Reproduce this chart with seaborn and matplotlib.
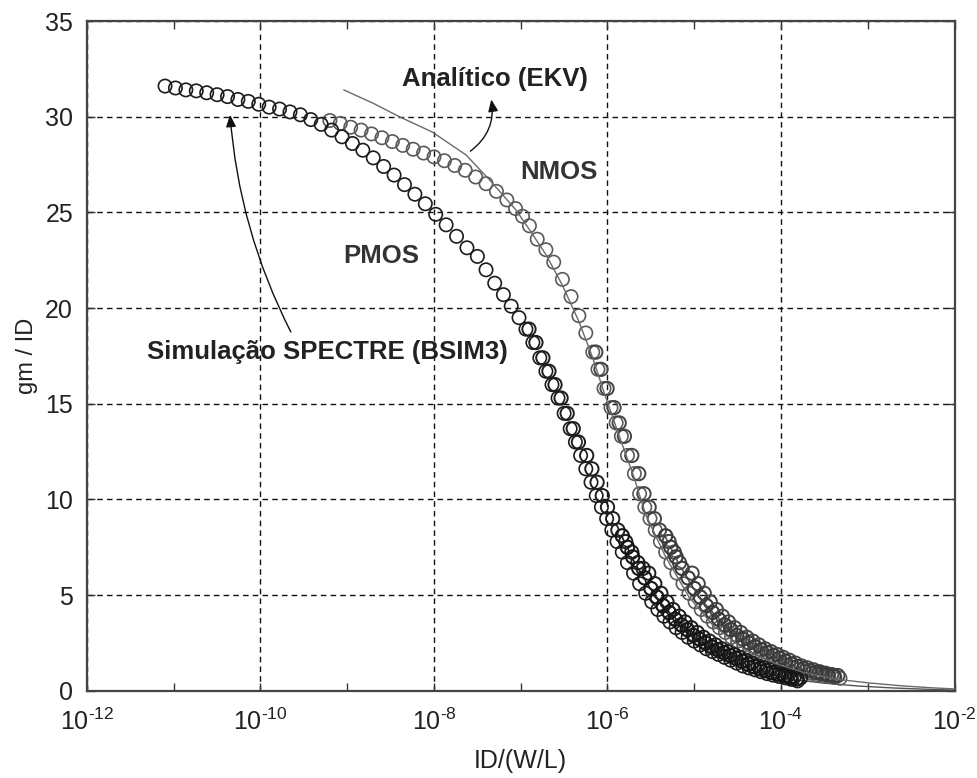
import matplotlib
matplotlib.use("Agg")
import matplotlib.pyplot as plt
import matplotlib.ticker as mticker
import numpy as np
import pandas as pd
import seaborn as sns

sns.set_theme(style="ticks")
plt.rcParams['font.family'] = ['Liberation Sans', 'DejaVu Sans']
plt.rcParams['mathtext.fontset'] = 'custom'
plt.rcParams['mathtext.rm'] = 'Liberation Sans'
plt.rcParams['mathtext.it'] = 'Liberation Sans:italic'
plt.rcParams['mathtext.bf'] = 'Liberation Sans:bold'

# simulated PMOS points (log10 of ID/(W/L), gm/ID)
pmos_log_id = [-11.10, -10.98, -10.86, -10.74, -10.62, -10.50, -10.38, -10.26, -10.14, -10.02,
               -9.90, -9.78, -9.66, -9.54, -9.42, -9.30, -9.18, -9.06, -8.94, -8.82,
               -8.70, -8.58, -8.46, -8.34, -8.22, -8.10, -7.98, -7.86, -7.74, -7.62,
               -7.50, -7.40, -7.30, -7.20, -7.11, -7.02, -6.94, -6.86, -6.78, -6.71,
               -6.64, -6.57, -6.50, -6.43, -6.37, -6.31, -6.25, -6.19, -6.13, -6.07,
               -6.01, -5.95, -5.89, -5.83, -5.77, -5.70, -5.63, -5.56, -5.49, -5.42,
               -5.35, -5.28, -5.21, -5.14, -5.07, -5.00, -4.93, -4.86, -4.79, -4.72,
               -4.65, -4.58, -4.51, -4.44, -4.37, -4.30, -4.23, -4.16, -4.09, -4.02,
               -3.95, -3.88, -3.81]
pmos_gm_id = [31.6, 31.5, 31.4, 31.35, 31.25, 31.15, 31.05, 30.9, 30.8, 30.65,
              30.5, 30.4, 30.25, 30.1, 29.85, 29.6, 29.3, 28.95, 28.6, 28.25,
              27.85, 27.4, 26.95, 26.45, 25.95, 25.45, 24.9, 24.35, 23.75, 23.15,
              22.7, 22.0, 21.3, 20.7, 20.1, 19.5, 18.9, 18.2, 17.4, 16.7,
              16.0, 15.3, 14.5, 13.7, 13.0, 12.3, 11.6, 10.9, 10.2, 9.6,
              9.0, 8.4, 7.8, 7.25, 6.7, 6.15, 5.6, 5.1, 4.65, 4.25,
              3.9, 3.6, 3.3, 3.05, 2.8, 2.6, 2.4, 2.2, 2.05, 1.9,
              1.75, 1.6, 1.45, 1.3, 1.2, 1.1, 1.0, 0.9, 0.82, 0.75,
              0.68, 0.6, 0.52]
# overlapping PMOS sweeps in strong inversion
pmos2_log_id = [-6.905, -6.825, -6.745, -6.675, -6.605, -6.535, -6.465, -6.395, -6.335, -6.24,
                -6.18, -6.12, -6.06, -6.00, -5.94, -5.88, -5.79, -5.72, -5.65, -5.59,
                -5.525, -5.455, -5.385, -5.315, -5.245, -5.175, -5.105, -5.035, -4.965, -4.895,
                -4.825, -4.755, -4.685, -4.615, -4.545, -4.475, -4.405, -4.335, -4.265, -4.195,
                -4.125, -4.055, -3.985, -3.915, -3.845, -3.775]
pmos2_gm_id = [18.9, 18.2, 17.4, 16.7, 16.0, 15.3, 14.5, 13.7, 13.0, 12.3,
               11.6, 10.9, 10.2, 9.6, 9.0, 8.4, 7.8, 7.25, 6.7, 6.4,
               6.15, 5.6, 5.1, 4.65, 4.25, 3.9, 3.6, 3.3, 3.05, 2.8,
               2.6, 2.4, 2.2, 2.05, 1.9, 1.75, 1.6, 1.45, 1.3, 1.2,
               1.1, 1.0, 0.9, 0.82, 0.75, 0.68]
pmos3_log_id = [-5.83, -5.77, -5.71, -5.64, -5.57, -5.50, -5.43, -5.36, -5.29, -5.22,
                -5.15, -5.08, -5.01, -4.94, -4.87, -4.80, -4.73, -4.66, -4.59, -4.52,
                -4.45, -4.38, -4.31, -4.24, -4.17, -4.10, -4.03, -3.96, -3.89, -3.82]
pmos3_gm_id = [8.1, 7.5, 7.0, 6.4, 5.9, 5.35, 4.9, 4.45, 4.1, 3.75,
               3.45, 3.2, 2.9, 2.7, 2.5, 2.3, 2.15, 2.0, 1.85, 1.7,
               1.55, 1.4, 1.27, 1.15, 1.05, 0.95, 0.87, 0.78, 0.7, 0.62]

# simulated NMOS points
nmos_log_id = [-9.20, -9.08, -8.96, -8.84, -8.72, -8.60, -8.48, -8.36, -8.24, -8.12,
               -8.00, -7.88, -7.76, -7.64, -7.52, -7.40, -7.28, -7.16, -7.06, -6.98,
               -6.90, -6.81, -6.71, -6.62, -6.52, -6.42, -6.33, -6.25, -6.17, -6.11,
               -6.04, -5.96, -5.90, -5.84, -5.77, -5.69, -5.63, -5.57, -5.51, -5.45,
               -5.39, -5.33, -5.27, -5.20, -5.13, -5.06, -4.99, -4.92, -4.85, -4.78,
               -4.71, -4.64, -4.57, -4.50, -4.43, -4.36, -4.29, -4.22, -4.15, -4.08,
               -4.01, -3.94, -3.87, -3.80, -3.73, -3.66, -3.59, -3.52, -3.45, -3.38,
               -3.32]
nmos_gm_id = [29.8, 29.65, 29.45, 29.3, 29.1, 28.9, 28.7, 28.5, 28.3, 28.1,
              27.9, 27.7, 27.45, 27.2, 26.85, 26.5, 26.1, 25.65, 25.2, 24.8,
              24.3, 23.6, 23.05, 22.4, 21.5, 20.6, 19.6, 18.7, 17.7, 16.8,
              15.8, 14.8, 14.0, 13.3, 12.3, 11.35, 10.3, 9.6, 9.0, 8.4,
              7.8, 7.25, 6.7, 6.15, 5.6, 5.1, 4.65, 4.25, 3.9, 3.6,
              3.3, 3.05, 2.8, 2.6, 2.4, 2.2, 2.05, 1.9, 1.75, 1.6,
              1.45, 1.3, 1.2, 1.1, 1.0, 0.92, 0.85, 0.8, 0.75, 0.7,
              0.66]
# overlapping NMOS sweeps in strong inversion
nmos2_log_id = [-6.135, -6.075, -6.005, -5.925, -5.865, -5.805, -5.72, -5.64, -5.58, -5.52,
                -5.46, -5.40, -5.29, -5.23, -5.17, -5.025, -4.955, -4.885, -4.815, -4.745,
                -4.675, -4.605, -4.535, -4.465, -4.395, -4.325, -4.255, -4.185, -4.115, -4.045,
                -3.975, -3.905, -3.835, -3.765, -3.695, -3.625, -3.555, -3.485, -3.415, -3.345]
nmos2_gm_id = [17.7, 16.8, 15.8, 14.8, 14.0, 13.3, 12.3, 11.35, 10.3, 9.6,
               9.0, 8.4, 7.8, 7.25, 6.7, 6.15, 5.6, 5.1, 4.65, 4.25,
               3.9, 3.6, 3.3, 3.05, 2.8, 2.6, 2.4, 2.2, 2.05, 1.9,
               1.75, 1.6, 1.45, 1.3, 1.2, 1.1, 1.0, 0.92, 0.85, 0.8]
nmos3_log_id = [-5.33, -5.27, -5.21, -5.14, -5.07, -5.00, -4.93, -4.86, -4.79, -4.72,
                -4.65, -4.58, -4.51, -4.44, -4.37, -4.30, -4.23, -4.16, -4.09, -4.02,
                -3.95, -3.88, -3.81, -3.74, -3.67, -3.60, -3.53, -3.46, -3.39]
nmos3_gm_id = [8.1, 7.5, 7.0, 6.4, 5.9, 5.35, 4.9, 4.45, 4.1, 3.75,
               3.45, 3.2, 2.9, 2.7, 2.5, 2.3, 2.15, 2.0, 1.85, 1.7,
               1.55, 1.4, 1.27, 1.15, 1.05, 0.97, 0.9, 0.84, 0.78]

# analytical EKV curves
ekv_n_log_id = [-9.04, -8.70, -8.40, -8.02, -7.63, -7.36, -7.05, -6.90, -6.71, -6.52,
                -6.33, -6.17, -6.04, -5.84, -5.69, -5.56, -5.33, -5.06, -4.78, -4.43,
                -4.08, -3.73, -3.38, -3.00, -2.60, -2.30, -2.00]
ekv_n_gm_id = [31.4, 30.7, 30.0, 29.2, 28.0, 26.7, 25.1, 24.1, 22.8, 21.2,
               19.3, 17.4, 15.6, 13.0, 11.1, 9.2, 7.0, 4.9, 3.4, 2.2,
               1.45, 0.95, 0.62, 0.42, 0.26, 0.17, 0.1]
ekv_p_log_id = [-5.56, -5.28, -5.00, -4.72, -4.44, -4.16, -3.88, -3.50, -3.10, -2.70,
                -2.30, -2.00]
ekv_p_gm_id = [5.0, 3.5, 2.5, 1.8, 1.25, 0.88, 0.6, 0.4, 0.25, 0.15,
               0.08, 0.04]

x_major = [1e-12, 1e-10, 1e-8, 1e-6, 1e-4, 1e-2]
x_minor = [1e-11, 1e-9, 1e-7, 1e-5, 1e-3]
x_labels = [r"$10^{\text{-12}}$", r"$10^{\text{-10}}$", r"$10^{\text{-8}}$",
            r"$10^{\text{-6}}$", r"$10^{\text{-4}}$", r"$10^{\text{-2}}$"]


def frame(log_id, gm):
    return pd.DataFrame({"id": 10.0 ** np.array(log_id), "gm": gm})


fig = plt.figure(figsize=(9.77, 7.78), dpi=100)
ax = fig.add_axes([0.089, 0.112, 0.888, 0.861])
ax.set_xscale("log")

sns.lineplot(data=frame(ekv_p_log_id, ekv_p_gm_id), x="id", y="gm", ax=ax,
             color="#555555", lw=1.0, sort=False, estimator=None, zorder=2)

circ = dict(ax=ax, x="id", y="gm", marker="o", s=92, facecolors="none", zorder=3)
sns.scatterplot(data=frame(nmos_log_id, nmos_gm_id), edgecolor="#5a5a5a",
                linewidth=1.2, **circ)
sns.scatterplot(data=frame(nmos2_log_id, nmos2_gm_id), edgecolor="#444444",
                linewidth=1.4, **circ)
sns.scatterplot(data=frame(nmos3_log_id, nmos3_gm_id), edgecolor="#3a3a3a",
                linewidth=1.5, **circ)
sns.scatterplot(data=frame(pmos_log_id, pmos_gm_id), edgecolor="#1c1c1c",
                linewidth=1.2, **circ)
sns.scatterplot(data=frame(pmos2_log_id, pmos2_gm_id), edgecolor="#1e1e1e",
                linewidth=1.4, **circ)
sns.scatterplot(data=frame(pmos3_log_id, pmos3_gm_id), edgecolor="#151515",
                linewidth=1.5, **circ)

sns.lineplot(data=frame(ekv_n_log_id, ekv_n_gm_id), x="id", y="gm", ax=ax,
             color="#6a6a6a", lw=1.0, sort=False, estimator=None, zorder=4)

ax.set_xlim(1e-12, 1e-2)
ax.set_ylim(0, 35)
ax.xaxis.set_major_locator(mticker.FixedLocator(x_major))
ax.xaxis.set_major_formatter(mticker.FixedFormatter(x_labels))
ax.xaxis.set_minor_locator(mticker.FixedLocator(x_minor))
ax.xaxis.set_minor_formatter(mticker.NullFormatter())
ax.yaxis.set_major_locator(mticker.MultipleLocator(5))

ax.grid(True, which="major", color="#111111", linestyle=(0, (4, 3)), lw=1.0)
ax.tick_params(which="both", direction="in", top=True, right=True,
               colors="#333333", labelcolor="#222222")
ax.tick_params(which="major", length=6, width=1)
ax.tick_params(which="minor", length=6, width=1)
ax.tick_params(axis="y", labelsize=18, pad=10)
ax.tick_params(axis="x", labelsize=18, pad=13)
for sp in ax.spines.values():
    sp.set_color("#444444")
    sp.set_linewidth(1.6)

ax.set_xlabel("ID/(W/L)", fontsize=18, color="#222222", labelpad=10)
ax.set_ylabel("gm / ID", fontsize=17, color="#222222", labelpad=5)

ax.text(10 ** -8.37, 31.95, "Analítico (EKV)", fontsize=18.5, fontweight="bold",
        color="#222222", va="center", ha="left")
ax.text(10 ** -7.00, 27.1, "NMOS", fontsize=18.5, fontweight="bold",
        color="#333333", va="center", ha="left")
ax.text(10 ** -9.05, 22.7, "PMOS", fontsize=18.5, fontweight="bold",
        color="#333333", va="center", ha="left")
ax.text(10 ** -11.31, 17.7, "Simulação SPECTRE (BSIM3)", fontsize=18.5,
        fontweight="bold", color="#222222", va="center", ha="left")

arrow_kw = dict(arrowstyle="-|>,head_length=0.6,head_width=0.25", color="#111111", lw=1.0,
                shrinkA=0, shrinkB=0)
ax.annotate("", xy=(10 ** -7.34, 30.9), xytext=(10 ** -7.58, 28.2),
            arrowprops=dict(connectionstyle="arc3,rad=0.3", **arrow_kw))
ax.annotate("", xy=(10 ** -10.35, 30.1), xytext=(10 ** -9.65, 18.75),
            arrowprops=dict(connectionstyle="arc3,rad=-0.1", **arrow_kw))

fig.savefig("out.png", dpi=100)
